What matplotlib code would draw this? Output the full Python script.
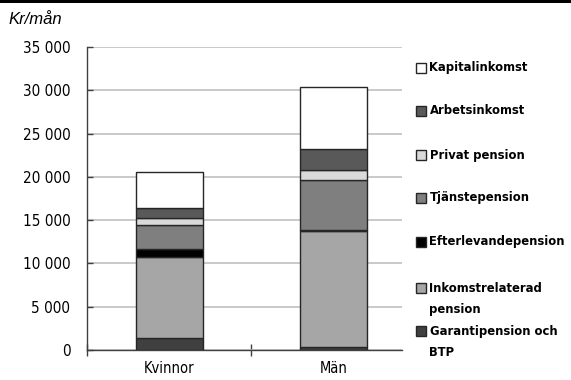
import numpy as np
import matplotlib
matplotlib.use('Agg')
import matplotlib.pyplot as plt
from matplotlib.patches import Rectangle

categories = ['Kvinnor', 'Män']
series_names = ['Garantipension och\nBTP', 'Inkomstrelaterad\npension', 'Efterlevandepension',
                'Tjänstepension', 'Privat pension', 'Arbetsinkomst', 'Kapitalinkomst']
garanti = [1420, 350]
inkomst = [9360, 13430]
efterlev = [850, 50]
tjanst = [2800, 5810]
privat = [770, 1110]
arbets = [1160, 2430]
kapital = [4160, 7200]
yticks = [0, 5000, 10000, 15000, 20000, 25000, 30000, 35000]

colors = ['#404040', '#a6a6a6', '#000000', '#7f7f7f', '#d9d9d9', '#595959', '#ffffff']
EDGE = '#262626'
COND = dict(family='DejaVu Sans', stretch='condensed')

W, H = 571, 380
fig = plt.figure(figsize=(W / 100, H / 100), dpi=100)
ax = fig.add_axes([87 / W, 1 - 350 / H, (402 - 87) / W, (350 - 47) / H])

x = np.arange(len(categories))
bottom = np.zeros(len(categories))
for vals, c in zip([garanti, inkomst, efterlev, tjanst, privat, arbets, kapital], colors):
    ax.bar(x, vals, width=0.407, bottom=bottom, color=c, edgecolor=EDGE, linewidth=1.0, zorder=3)
    bottom += np.array(vals)

ax.set_xlim(-0.5, 1.415)
ax.set_ylim(0, 35000)
ax.set_yticks(yticks)
ax.set_yticklabels([f'{v:,}'.replace(',', ' ') for v in yticks], fontsize=11, **COND)
ax.set_xticks(x)
ax.set_xticklabels(categories, fontsize=10.5, **COND)
ax.set_xticks([-0.5, 0.5], minor=True)
ax.tick_params(axis='x', which='major', length=0, pad=8)
ax.tick_params(axis='x', which='minor', direction='inout', length=9, width=1, color='#404040')
ax.tick_params(axis='y', direction='in', length=4.5, width=1, color='#404040', pad=12)

ax.yaxis.grid(True, color='#c0c0c0', linewidth=1.2, zorder=0)
ax.set_axisbelow(True)
for s in ['top', 'right']:
    ax.spines[s].set_visible(False)
for s in ['left', 'bottom']:
    ax.spines[s].set_color('#404040')
    ax.spines[s].set_linewidth(1.0)

# legend built by hand, top entry first
leg_y = [68, 111, 155, 198, 242, 288, 331]
for name, c, yp in zip(series_names[::-1], colors[::-1], leg_y):
    fig.add_artist(Rectangle((416 / W, 1 - (yp + 5) / H), 10 / W, 10 / H, transform=fig.transFigure,
                             facecolor=c, edgecolor=EDGE, linewidth=1.0))
    for i, line in enumerate(name.split('\n')):
        fig.text(429.5 / W, 1 - (yp + i * 21) / H, line, fontweight='bold',
                 fontsize=9.3, va='center', ha='left', **COND)

fig.text(8 / W, 1 - 20 / H, 'Kr/mån', family='Liberation Sans', style='italic', fontsize=12, va='center')
fig.add_artist(Rectangle((0, 1 - 3 / H), 1, 3 / H, transform=fig.transFigure, facecolor='black', edgecolor='none'))

fig.savefig('out.png', dpi=100)
